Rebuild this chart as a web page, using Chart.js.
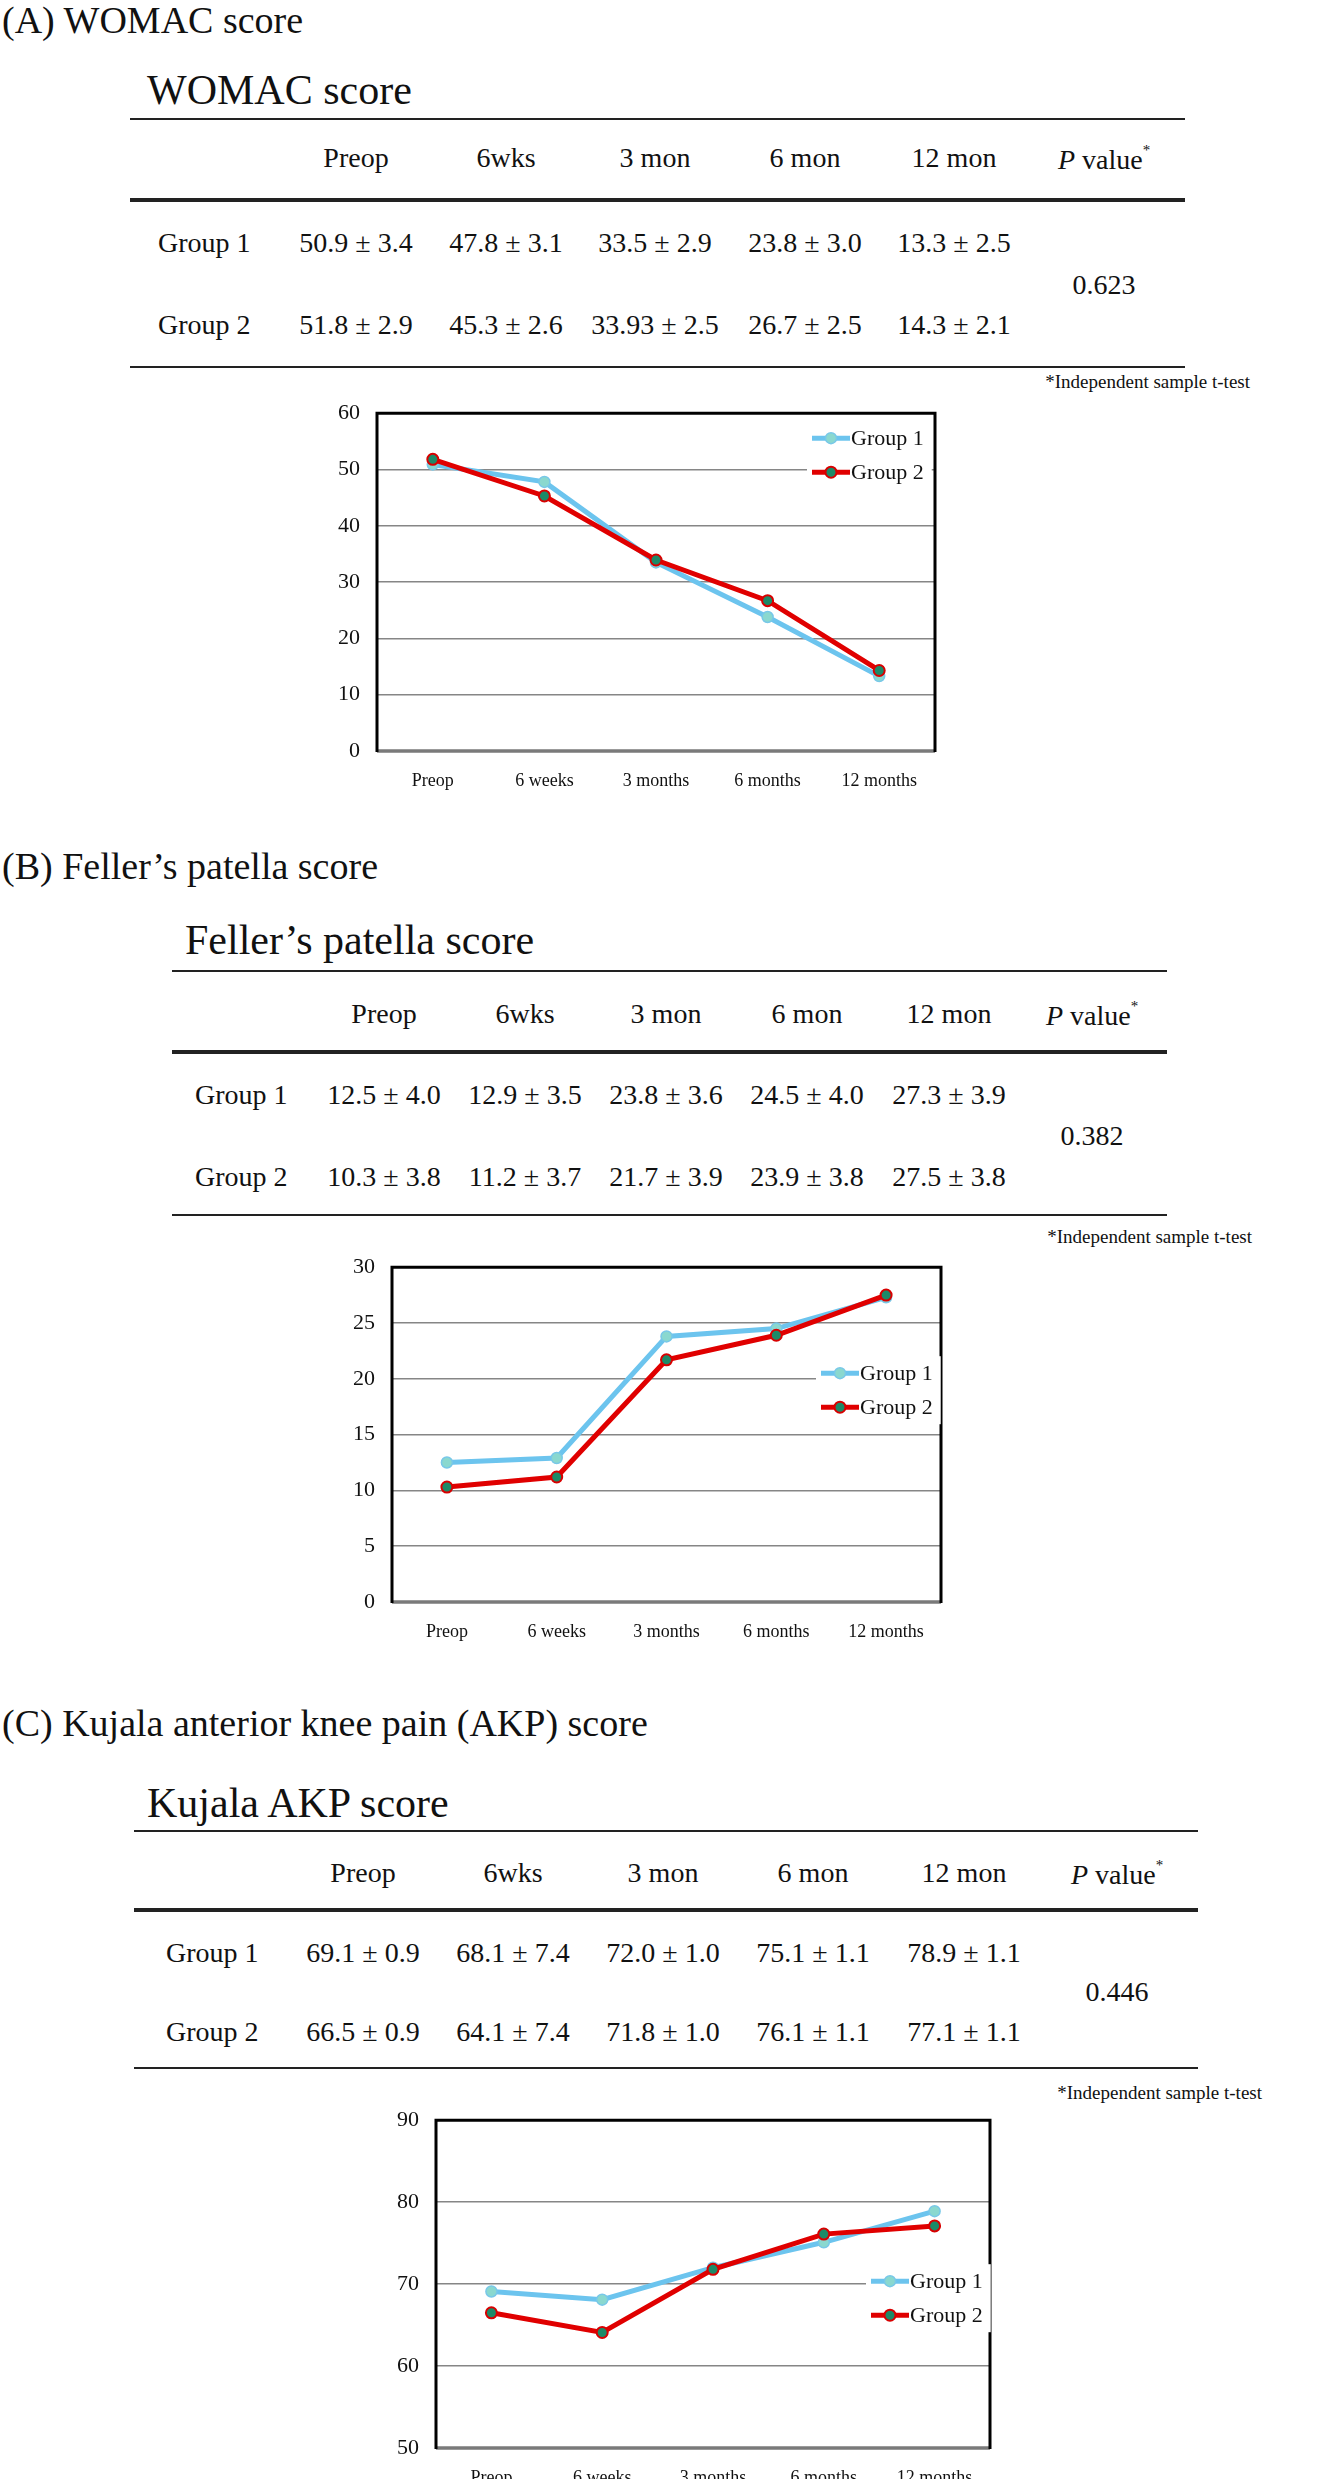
<!DOCTYPE html>
<html>
<head>
<meta charset="utf-8">
<script src="https://cdn.jsdelivr.net/npm/chart.js@4.4.1/dist/chart.umd.min.js"></script>
<style>
  html, body { margin: 0; padding: 0; background: #fff; }
  body { width: 1318px; height: 2479px; position: relative; overflow: hidden;
         font-family: "Liberation Serif", "Times New Roman", serif; color: #111; }
  .t { position: absolute; white-space: nowrap; line-height: 1; }
  .rule { position: absolute; background: #222; }
  .box { position: absolute; }
</style>
</head>
<body>
<script>
// ---- data ----
var categories = ['Preop', '6 weeks', '3 months', '6 months', '12 months'];
var tableHeads = ['Preop', '6wks', '3 mon', '6 mon', '12 mon'];

var womacG1 = [50.9, 47.8, 33.5, 23.8, 13.3];
var womacG1Sd = [3.4, 3.1, 2.9, 3.0, 2.5];
var womacG2 = [51.8, 45.3, 33.93, 26.7, 14.3];
var womacG2Sd = [2.9, 2.6, 2.5, 2.5, 2.1];
var womacP = '0.623';
var womacTicks = [0, 10, 20, 30, 40, 50, 60];

var fellerG1 = [12.5, 12.9, 23.8, 24.5, 27.3];
var fellerG1Sd = [4.0, 3.5, 3.6, 4.0, 3.9];
var fellerG2 = [10.3, 11.2, 21.7, 23.9, 27.5];
var fellerG2Sd = [3.8, 3.7, 3.9, 3.8, 3.8];
var fellerP = '0.382';
var fellerTicks = [0, 5, 10, 15, 20, 25, 30];

var kujalaG1 = [69.1, 68.1, 72.0, 75.1, 78.9];
var kujalaG1Sd = [0.9, 7.4, 1.0, 1.1, 1.1];
var kujalaG2 = [66.5, 64.1, 71.8, 76.1, 77.1];
var kujalaG2Sd = [0.9, 7.4, 1.0, 1.1, 1.1];
var kujalaP = '0.446';
var kujalaTicks = [50, 60, 70, 80, 90];

// ---- helpers ----
function fmt(v) {
  var ten = v * 10;
  return Math.abs(ten - Math.round(ten)) < 1e-9 ? v.toFixed(1) : String(v);
}

function text(str, x, y, size, align, html) {
  var d = document.createElement('div');
  d.className = 't';
  d.style.fontSize = size + 'px';
  d.style.left = x + 'px';
  d.style.top = y + 'px';
  var tx = align === 'center' ? '-50%' : (align === 'right' ? '-100%' : '0');
  d.style.transform = 'translate(' + tx + ',-50%)';
  if (html) d.innerHTML = str; else d.textContent = str;
  document.body.appendChild(d);
}

function rule(x1, x2, y, h) {
  var d = document.createElement('div');
  d.className = 'rule';
  d.style.left = x1 + 'px';
  d.style.width = (x2 - x1) + 'px';
  d.style.top = (y - h / 2) + 'px';
  d.style.height = h + 'px';
  document.body.appendChild(d);
}

function table(L, title, g1, g1sd, g2, g2sd, p) {
  text(L.label, 2, L.labelY, 38, 'left');
  text(title, L.titleX, L.titleY, 42, 'left');
  rule(L.ruleX1, L.ruleX2, L.rule1, 2.5);
  rule(L.ruleX1, L.ruleX2, L.rule2, 3.5);
  rule(L.ruleX1, L.ruleX2, L.rule3, 2.5);
  for (var i = 0; i < tableHeads.length; i++) {
    text(tableHeads[i], L.cols[i], L.headY, 28, 'center');
    text(fmt(g1[i]) + ' ± ' + fmt(g1sd[i]), L.cols[i], L.row1, 28, 'center');
    text(fmt(g2[i]) + ' ± ' + fmt(g2sd[i]), L.cols[i], L.row2, 28, 'center');
  }
  text('<i>P</i> value<sup style="font-size:15px;vertical-align:14px">*</sup>', L.pX, L.headY, 28, 'center', true);
  text('Group 1', L.groupX, L.row1, 28, 'left');
  text('Group 2', L.groupX, L.row2, 28, 'left');
  text(p, L.pX, L.pY, 28, 'center');
  text('*Independent sample t-test', L.noteX, L.noteY, 19, 'right');
}

// frame around the plot area
var framePlugin = {
  id: 'frame',
  afterDraw: function (chart) {
    var c = chart.ctx, a = chart.chartArea;
    c.save();
    c.lineWidth = 3.5;
    c.strokeStyle = '#7a7a7a';
    c.beginPath(); c.moveTo(a.left, a.bottom); c.lineTo(a.right, a.bottom); c.stroke();
    c.lineWidth = 3;
    c.strokeStyle = '#000';
    c.beginPath();
    c.moveTo(a.left, a.bottom + 1); c.lineTo(a.left, a.top);
    c.lineTo(a.right, a.top); c.lineTo(a.right, a.bottom + 1);
    c.stroke();
    c.restore();
  }
};

// legend drawn inside the plot area
var innerLegend = {
  id: 'innerLegend',
  afterDraw: function (chart, args, o) {
    var c = chart.ctx, a = chart.chartArea;
    var tx = a.right + o.dx, y0 = a.top + o.dy;
    c.save();
    c.font = '22px "Liberation Serif", "Times New Roman", serif';
    var w = 0;
    chart.data.datasets.forEach(function (d) { w = Math.max(w, c.measureText(d.label).width); });
    c.fillStyle = '#fff';
    c.fillRect(tx - 44, y0 - 17, w + 52, o.gap + 34);
    chart.data.datasets.forEach(function (d, i) {
      var y = y0 + i * o.gap;
      c.strokeStyle = d.borderColor;
      c.lineWidth = d.borderWidth;
      c.beginPath(); c.moveTo(tx - 39, y); c.lineTo(tx - 1, y); c.stroke();
      c.beginPath(); c.arc(tx - 20, y, d.pointRadius, 0, Math.PI * 2);
      c.fillStyle = d.pointBackgroundColor; c.fill();
      c.lineWidth = d.pointBorderWidth; c.strokeStyle = d.pointBorderColor; c.stroke();
      c.fillStyle = '#111';
      c.textBaseline = 'middle';
      c.fillText(d.label, tx, y + 1);
    });
    c.restore();
  }
};

function chart(L, g1, g2, ticks) {
  var padL = 70, padT = 20, padR = 20, padB = 50;
  var box = document.createElement('div');
  box.className = 'box';
  box.style.left = (L.x1 - padL) + 'px';
  box.style.top = (L.y1 - padT) + 'px';
  box.style.width = (L.x2 - L.x1 + padL + padR) + 'px';
  box.style.height = (L.y2 - L.y1 + padT + padB) + 'px';
  var cv = document.createElement('canvas');
  box.appendChild(cv);
  document.body.appendChild(box);
  var lo = ticks[0], hi = ticks[ticks.length - 1];
  new Chart(cv, {
    type: 'line',
    data: {
      labels: categories,
      datasets: [
        {
          label: 'Group 1', data: g1, order: 2,
          borderColor: '#6cc4ee', borderWidth: 5,
          pointRadius: 5.5, pointBorderWidth: 1.5,
          pointBackgroundColor: '#8ad8cf', pointBorderColor: '#78c8e8'
        },
        {
          label: 'Group 2', data: g2, order: 1,
          borderColor: '#e00000', borderWidth: 5,
          pointRadius: 5.5, pointBorderWidth: 2,
          pointBackgroundColor: '#1d8a68', pointBorderColor: '#d80000'
        }
      ]
    },
    options: {
      responsive: true, maintainAspectRatio: false, animation: false, devicePixelRatio: 1,
      layout: { padding: { top: padT, right: padR, left: 0, bottom: 0 } },
      plugins: {
        legend: { display: false }, tooltip: { enabled: false },
        innerLegend: L.legend
      },
      scales: {
        x: {
          offset: true,
          grid: { display: false },
          border: { display: false },
          ticks: { color: '#111', font: { size: 18 }, padding: 11, maxRotation: 0 },
          afterFit: function (s) { s.height = padB; }
        },
        y: {
          min: lo, max: hi,
          grid: {
            drawTicks: false, lineWidth: 1.5,
            color: function (c) { return (c.tick.value === lo || c.tick.value === hi) ? 'rgba(0,0,0,0)' : '#868686'; }
          },
          border: { display: false },
          ticks: { stepSize: ticks[1] - ticks[0], color: '#111', font: { size: 22 }, padding: 17 },
          afterFit: function (s) { s.width = padL; }
        }
      }
    },
    plugins: [framePlugin, innerLegend]
  });
}

Chart.defaults.font.family = '"Liberation Serif", "Times New Roman", serif';

// ---- layout ----
var layA = {
  label: '(A) WOMAC score', labelY: 20, titleX: 147, titleY: 90,
  ruleX1: 130, ruleX2: 1185, rule1: 119, rule2: 200, rule3: 367,
  cols: [356, 506, 655, 805, 954], pX: 1104, headY: 158, row1: 243, row2: 325, pY: 285,
  groupX: 158, noteX: 1250, noteY: 381,
  chart: { x1: 377, x2: 935, y1: 403, y2: 751, legend: { dx: -84, dy: 25, gap: 34 } }
};
var layB = {
  label: '(B) Feller\u2019s patella score', labelY: 866, titleX: 185, titleY: 940,
  ruleX1: 172, ruleX2: 1167, rule1: 971, rule2: 1052, rule3: 1215,
  cols: [384, 525, 666, 807, 949], pX: 1092, headY: 1014, row1: 1095, row2: 1177, pY: 1136,
  groupX: 195, noteX: 1252, noteY: 1236,
  chart: { x1: 392, x2: 941, y1: 1257, y2: 1602, legend: { dx: -81, dy: 106, gap: 34 } }
};
var layC = {
  label: '(C) Kujala anterior knee pain (AKP) score', labelY: 1723, titleX: 147, titleY: 1803,
  ruleX1: 134, ruleX2: 1198, rule1: 1831, rule2: 1910, rule3: 2068,
  cols: [363, 513, 663, 813, 964], pX: 1117, headY: 1873, row1: 1953, row2: 2032, pY: 1992,
  groupX: 166, noteX: 1262, noteY: 2092,
  chart: { x1: 436, x2: 990, y1: 2110, y2: 2448, legend: { dx: -80, dy: 161, gap: 34 } }
};

table(layA, 'WOMAC score', womacG1, womacG1Sd, womacG2, womacG2Sd, womacP);
chart(layA.chart, womacG1, womacG2, womacTicks);
table(layB, 'Feller\u2019s patella score', fellerG1, fellerG1Sd, fellerG2, fellerG2Sd, fellerP);
chart(layB.chart, fellerG1, fellerG2, fellerTicks);
table(layC, 'Kujala AKP score', kujalaG1, kujalaG1Sd, kujalaG2, kujalaG2Sd, kujalaP);
chart(layC.chart, kujalaG1, kujalaG2, kujalaTicks);
</script>
</body>
</html>
